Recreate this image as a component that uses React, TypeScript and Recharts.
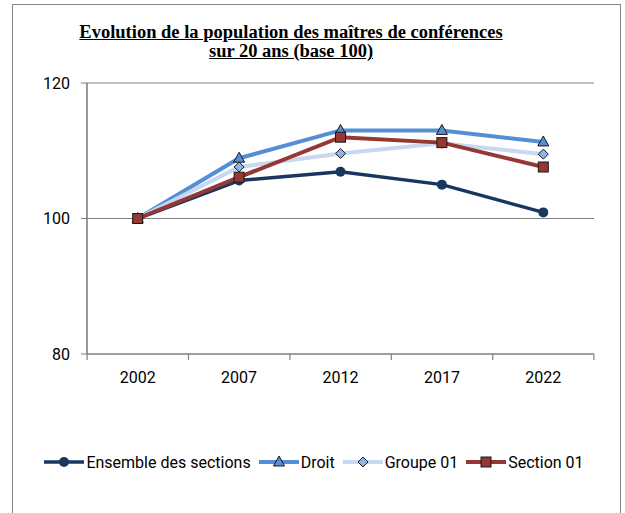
import React from "react";
import { LineChart, Line, XAxis, YAxis, CartesianGrid } from "recharts";

const YEARS = ["2002", "2007", "2012", "2017", "2022"];
const ENSEMBLE = [100, 105.6, 106.9, 105.0, 100.9];
const DROIT = [100, 108.9, 113.0, 113.0, 111.3];
const GROUPE_01 = [100, 107.6, 109.6, 111.1, 109.5];
const SECTION_01 = [100, 106.1, 112.0, 111.2, 107.6];
const Y_TICKS = [80, 100, 120];

const data = YEARS.map((year, i) => ({
  year,
  ensemble: ENSEMBLE[i],
  droit: DROIT[i],
  groupe: GROUPE_01[i],
  section: SECTION_01[i],
}));

const AXIS_GRAY = "#808080";
const FONT = "Roboto, sans-serif";
const W = 625;
const H = 513;
const MARGIN = { top: 83, right: 31, bottom: 129, left: 0 };
const Y_AXIS_W = 87;
const HALF_BAND = (W - MARGIN.right - Y_AXIS_W) / YEARS.length / 2;
const X_LABEL_GAP = 18;

type Shape = "circle" | "triangle" | "diamond" | "square";

const SERIES: { key: string; name: string; color: string; width: number; shape: Shape; fill: string }[] = [
  { key: "ensemble", name: "Ensemble des sections", color: "#17375e", width: 3.5, shape: "circle", fill: "#17375e" },
  { key: "droit", name: "Droit", color: "#558ed5", width: 4, shape: "triangle", fill: "#558ed5" },
  { key: "groupe", name: "Groupe 01", color: "#c6d9f1", width: 4, shape: "diamond", fill: "#8eb4e3" },
  { key: "section", name: "Section 01", color: "#953735", width: 4, shape: "square", fill: "#953735" },
];

function Marker({ cx, cy, shape, fill }: { cx: number; cy: number; shape: Shape; fill: string }) {
  if (shape === "circle") return <circle cx={cx} cy={cy} r={5} fill={fill} />;
  if (shape === "triangle")
    return (
      <path
        d={`M${cx},${cy - 6} L${cx + 5.5},${cy + 4} L${cx - 5.5},${cy + 4} Z`}
        fill={fill}
        stroke="#1a1a1a"
        strokeWidth={1}
      />
    );
  if (shape === "diamond")
    return (
      <path
        d={`M${cx},${cy - 5} L${cx + 5},${cy} L${cx},${cy + 5} L${cx - 5},${cy} Z`}
        fill={fill}
        stroke="#1a1a1a"
        strokeWidth={1}
      />
    );
  return <rect x={cx - 5} y={cy - 5} width={10} height={10} fill={fill} stroke="#1a1a1a" strokeWidth={1} />;
}

// year label centred in its band, tick marks on the band edges (Excel style)
function YearTick(props: any) {
  const { x, y, payload, index, visibleTicksCount } = props;
  const axisY = y - X_LABEL_GAP;
  const last = index === visibleTicksCount - 1;
  const left = x - HALF_BAND;
  const right = x + HALF_BAND;
  return (
    <g>
      <rect x={left - 0.5} y={axisY} width={1.2} height={6} fill={AXIS_GRAY} />
      {last && <rect x={right - 0.7} y={axisY} width={1.2} height={6} fill={AXIS_GRAY} />}
      <text x={x} y={y} dy="0.71em" textAnchor="middle" fill="#000" fontFamily={FONT} fontSize={16}>
        {payload.value}
      </text>
    </g>
  );
}

function Legend() {
  return (
    <div
      style={{
        position: "absolute",
        left: 0,
        top: 452,
        width: 636,
        display: "flex",
        justifyContent: "center",
        alignItems: "center",
        fontFamily: FONT,
        fontSize: 16,
        color: "#000",
      }}
    >
      {SERIES.map((s) => (
        <div key={s.key} style={{ display: "flex", alignItems: "center", marginRight: 8 }}>
          <svg width={40} height={20}>
            <line x1={0} y1={10} x2={40} y2={10} stroke={s.color} strokeWidth={s.width} />
            <Marker cx={20} cy={10} shape={s.shape} fill={s.fill} />
          </svg>
          <span style={{ marginLeft: 2 }}>{s.name}</span>
        </div>
      ))}
    </div>
  );
}

export default function App() {
  return (
    <div style={{ position: "absolute", left: 0, top: 0, width: W, height: H, background: "#fff", overflow: "hidden" }}>
      <div
        style={{
          position: "absolute",
          left: 12,
          top: 4,
          width: 607,
          height: 530,
          border: "1px solid #868686",
        }}
      />
      <div
        style={{
          position: "absolute",
          left: 0,
          top: 23,
          width: 582,
          textAlign: "center",
          fontFamily: "'Liberation Serif', 'Times New Roman', serif",
          fontWeight: "bold",
          fontSize: 18.5,
          lineHeight: "19px",
          textDecoration: "underline",
        }}
      >
        Evolution de la population des maîtres de conférences
        <br />
        sur 20 ans (base 100)
      </div>
      <div style={{ position: "absolute", left: 0, top: 0 }}>
        <LineChart width={W} height={H} data={data} margin={MARGIN}>
          {/* vertical grid holds only the value-axis line at the plot's left edge */}
          <CartesianGrid
            stroke={AXIS_GRAY}
            strokeWidth={1.2}
            verticalCoordinatesGenerator={({ offset }: any) => [offset.left]}
          />
          <XAxis
            dataKey="year"
            height={30}
            padding={{ left: HALF_BAND, right: HALF_BAND }}
            stroke={AXIS_GRAY}
            tickLine={false}
            tickSize={0}
            tickMargin={X_LABEL_GAP}
            tick={<YearTick />}
            interval={0}
          />
          <YAxis
            width={Y_AXIS_W}
            domain={[80, 120]}
            ticks={Y_TICKS}
            stroke={AXIS_GRAY}
            tickSize={6}
            tick={{ fill: "#000", fontFamily: FONT, fontSize: 16 }}
            tickMargin={11}
          />
          {SERIES.map((s) => (
            <Line
              key={s.key}
              dataKey={s.key}
              name={s.name}
              stroke={s.color}
              strokeWidth={s.width}
              isAnimationActive={false}
              dot={(p: any) => <Marker key={`${s.key}-${p.index}`} cx={p.cx} cy={p.cy} shape={s.shape} fill={s.fill} />}
            />
          ))}
        </LineChart>
      </div>
      <Legend />
    </div>
  );
}
